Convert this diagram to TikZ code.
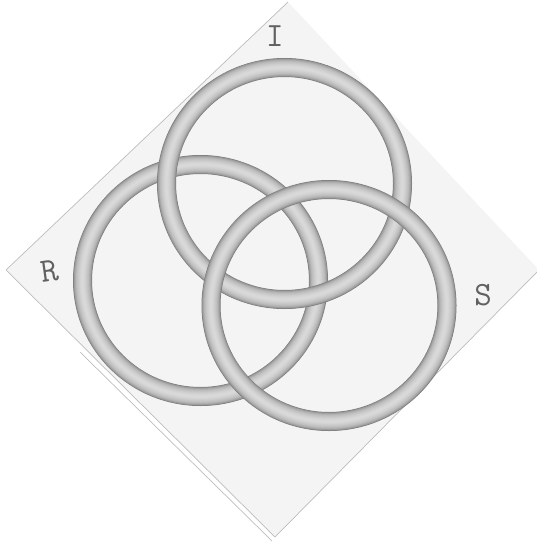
\documentclass[tikz,border=0pt]{standalone}
\usetikzlibrary{positioning}
\definecolor{paper}{gray}{0.955}
\definecolor{edgeline}{gray}{0.74}
\definecolor{pencil}{gray}{0.38}
\tikzset{
  letter/.style={font=\ttfamily\fontsize{34}{34}\selectfont, text=pencil, inner sep=0pt},
}
% one shaded ring, layers from the dark rim to the light middle
\newcommand{\tube}[1]{%
  \foreach \w/\g in {19/0.48,18/0.56,17/0.62,15.5/0.67,14/0.71,12.5/0.74,11/0.76,9.5/0.78,8/0.80,6.5/0.815,5/0.83,3.5/0.84,2/0.85}
    \draw[line width=\w pt, draw={rgb,1:red,\g;green,\g;blue,\g}] (#1) ellipse (118 and 116);
}

\begin{document}
\begin{tikzpicture}[x=1pt, y=-1pt]
  \useasboundingbox (0,0) rectangle (536,543);
  % the paper
  \fill[paper] (288,2) -- (539,270) -- (275,537) -- (6,270) -- cycle;
  \draw[edgeline, line width=0.7] (288,2) -- (6,270) -- (275,537) -- (539,270);
  \draw[edgeline, line width=0.7] (80,352) -- (272,541);
  % centres
  \coordinate (cR) at (200.5,280.5);
  \coordinate (cI) at (284.5,183.5);
  \coordinate (cS) at (329,305.5);
  % R lowest, I over R, S over both
  \tube{cR}
  \tube{cI}
  \tube{cS}
  % letters
  \node[letter] (lI) at (275,36) {I};
  \node[letter, rotate=8] (lR) at (50,271) {R};
  \node[letter] (lS) at (483,295) {S};
\end{tikzpicture}
\end{document}
